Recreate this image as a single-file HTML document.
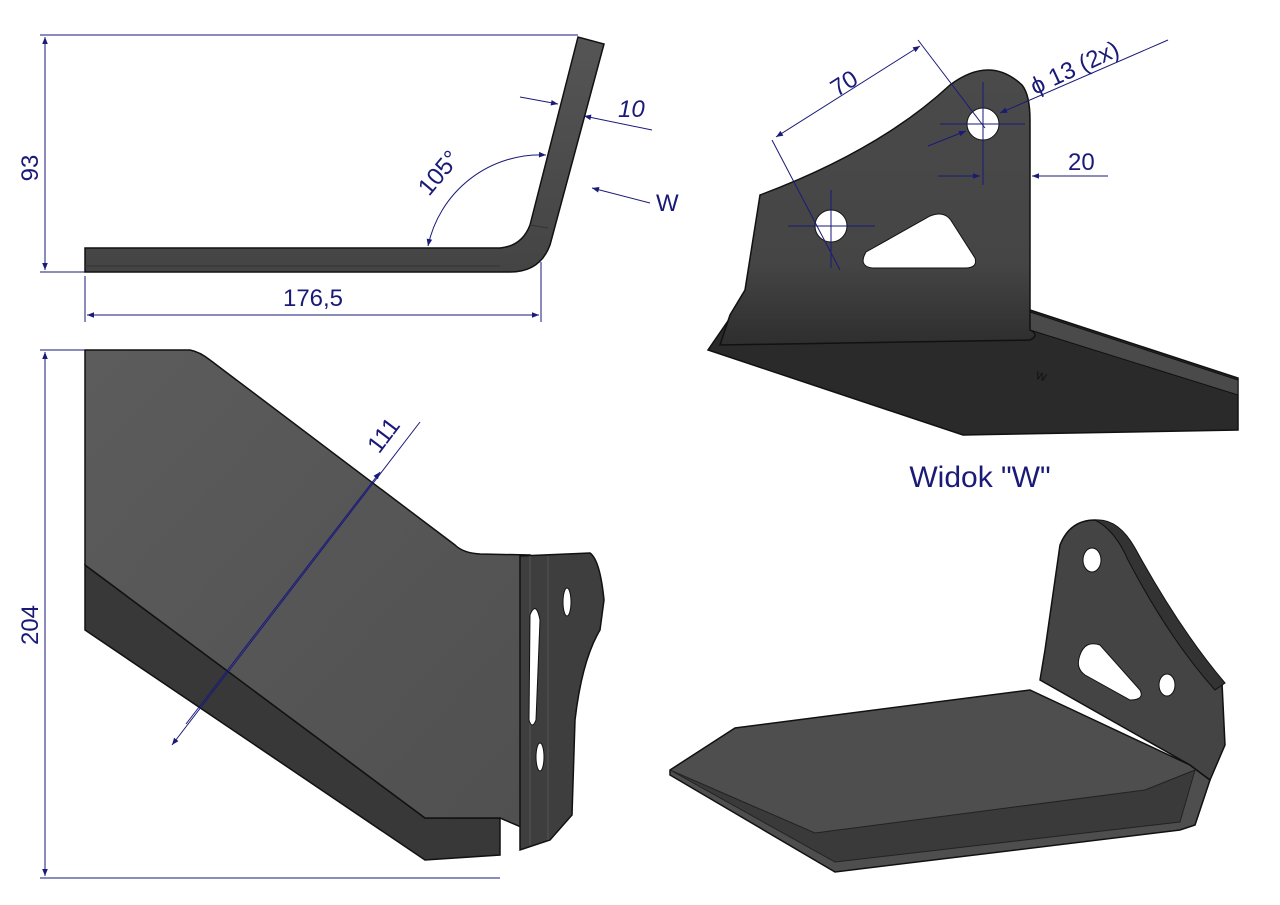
<!DOCTYPE html>
<html><head><meta charset="utf-8"><style>
html,body{margin:0;padding:0;background:#fff;}
svg{display:block;}
text{font-family:"Liberation Sans",sans-serif;fill:#1a1a78;}
</style></head><body>
<svg width="1280" height="905" viewBox="0 0 1280 905" xmlns="http://www.w3.org/2000/svg">
<defs>
<marker id="a" viewBox="0 0 10 10" refX="10" refY="5" markerWidth="10" markerHeight="7" orient="auto-start-reverse"><path d="M0,1 L10,5 L0,9 z" fill="#1a1a78"/></marker>
<linearGradient id="g1" x1="0" y1="0" x2="0" y2="1"><stop offset="0" stop-color="#555"/><stop offset="1" stop-color="#444"/></linearGradient>
<linearGradient id="g2" x1="0" y1="0" x2="1" y2="1"><stop offset="0" stop-color="#5c5c5c"/><stop offset="1" stop-color="#505050"/></linearGradient>
<linearGradient id="g3" x1="0" y1="0" x2="0" y2="1"><stop offset="0" stop-color="#4a4a4a"/><stop offset="0.7" stop-color="#454545"/><stop offset="1" stop-color="#2e2e2e"/></linearGradient>
</defs>
<g stroke="#1a1a78" stroke-width="1" fill="none">
<!-- top-left dims -->
<line x1="40" y1="35" x2="578" y2="35"/>
<line x1="40" y1="272" x2="85" y2="272"/>
<line x1="45" y1="37" x2="45" y2="270" marker-start="url(#a)" marker-end="url(#a)"/>
<line x1="85" y1="276" x2="85" y2="322"/>
<line x1="541" y1="262" x2="541" y2="322"/>
<line x1="87" y1="315" x2="539" y2="315" marker-start="url(#a)" marker-end="url(#a)"/>
<path d="M428,246 A115,115 0 0 1 546,155" marker-start="url(#a)" marker-end="url(#a)"/>
<line x1="520" y1="97" x2="558" y2="104" marker-end="url(#a)"/>
<line x1="652" y1="130" x2="584" y2="116" marker-end="url(#a)"/>
<line x1="650" y1="203" x2="592" y2="188" marker-end="url(#a)"/>
<!-- bottom-left dims -->
<line x1="40" y1="350" x2="85" y2="350"/>
<line x1="40" y1="878" x2="500" y2="878"/>
<line x1="45" y1="352" x2="45" y2="876" marker-start="url(#a)" marker-end="url(#a)"/>
</g>
<!-- top-left view -->
<path d="M85,248 L500,248 Q522,246 530,225 L578,37 L604,44 L550,245 Q540,272 510,272 L85,272 Z" fill="url(#g1)" stroke="#111" stroke-width="1.5"/>
<line x1="85" y1="266" x2="500" y2="266" stroke="#333"/>
<line x1="530" y1="225" x2="548" y2="228" stroke="#333"/>
<text x="22" y="158" font-size="24" transform="rotate(-90 35 155)" text-anchor="middle">93</text>
<text x="313" y="306" font-size="24" text-anchor="middle">176,5</text>
<text x="445" y="178" font-size="24" transform="rotate(-50 445 178)" text-anchor="middle">105°</text>
<text x="618" y="117" font-size="24" font-style="italic">10</text>
<text x="656" y="211" font-size="24">W</text>
<!-- bottom-left view -->
<path d="M85,565 L425,818 L500,818 L500,855 L425,860 L85,630 Z" fill="#383838" stroke="#111" stroke-width="1.5"/>
<path d="M85,350 L190,350 Q200,352 210,360 L455,545 Q463,553 480,554 L530,555 L528,830 L500,818 L425,818 L85,565 Z" fill="url(#g2)" stroke="#111" stroke-width="1.5"/>
<path d="M520,556 L590,553 Q600,560 604,600 L600,630 Q582,660 575,720 L572,815 L550,840 L520,850 Z" fill="#3e3e3e" stroke="#111" stroke-width="1.5"/>
<path d="M530,556 L530,845 M548,556 L548,840" stroke="#555" fill="none"/>
<ellipse cx="567" cy="602" rx="4" ry="14" fill="#fff" stroke="#111"/>
<ellipse cx="540" cy="757" rx="4" ry="14" fill="#fff" stroke="#111"/>
<path d="M530,615 Q536,600 540,620 L536,720 Q532,730 529,720 Z" fill="#fff" stroke="#111"/>
<line x1="420" y1="422" x2="172" y2="745" stroke="#1a1a78" marker-end="url(#a)"/>
<line x1="380" y1="472" x2="186" y2="724" stroke="#1a1a78" marker-start="url(#a)"/>
<text x="390" y="440" font-size="24" transform="rotate(-53 390 440)" text-anchor="middle">111</text>
<text x="22" y="615" font-size="24" transform="rotate(-90 35 612)" text-anchor="middle">204</text>
<!-- top-right view -->
<path d="M1030,310 L1238,378 L1238,430 L963,435 L708,350 L730,318 Z" fill="#2a2a2a" stroke="#111" stroke-width="1.5"/>
<path d="M1030,312 L1238,380 L1238,395 L1030,330 Z" fill="#4a4a4a" stroke="#111"/>
<path d="M760,195 Q880,150 950,85 Q990,55 1022,85 Q1030,95 1030,120 L1030,330 Q1040,335 1030,340 L720,345 L730,315 L745,290 Z" fill="url(#g3)" stroke="#111" stroke-width="1.5"/>
<circle cx="831" cy="226" r="16" fill="#fff" stroke="#111"/>
<circle cx="983" cy="124" r="16" fill="#fff" stroke="#111"/>
<path d="M866,252 L930,216 Q945,210 952,222 L975,258 Q978,268 965,268 L872,268 Q858,266 866,252 Z" fill="#fff" stroke="#111"/>
<text x="1040" y="380" font-size="11" fill="#111" style="fill:#111" transform="rotate(18 1040 380)" text-anchor="middle">W</text>
<g stroke="#1a1a78" fill="none">
<line x1="772" y1="140" x2="840" y2="270"/>
<line x1="918" y1="40" x2="985" y2="128"/>
<line x1="776" y1="137" x2="920" y2="46" marker-start="url(#a)" marker-end="url(#a)"/>
<line x1="788" y1="226" x2="875" y2="226"/>
<line x1="831" y1="190" x2="831" y2="268"/>
<line x1="940" y1="124" x2="1025" y2="124"/>
<line x1="983" y1="82" x2="983" y2="185"/>
<line x1="1168" y1="40" x2="1000" y2="113" marker-end="url(#a)"/>
<line x1="928" y1="146" x2="966" y2="131" marker-end="url(#a)"/>
<line x1="938" y1="176" x2="980" y2="176" marker-end="url(#a)"/>
<line x1="1108" y1="176" x2="1032" y2="176" marker-end="url(#a)"/>
</g>
<text x="842" y="92" font-size="24" transform="rotate(-32 842 80)" text-anchor="middle">70</text>
<text x="1035" y="95" font-size="24" transform="rotate(-25 1035 95)">ϕ 13 (2x)</text>
<text x="1068" y="170" font-size="24">20</text>
<text x="980" y="487" font-size="30" text-anchor="middle">Widok "W"</text>
<!-- bottom-right view -->
<path d="M670,770 L735,728 L1030,690 L1190,765 L1210,780 L1195,825 L1180,830 L835,872 L670,775 Z" fill="#4e4e4e" stroke="#111" stroke-width="1.5"/>
<path d="M670,770 L835,862 L1180,822 L1195,770 L1145,790 L815,833 Z" fill="#3a3a3a" stroke="#222"/>
<path d="M1060,545 Q1070,520 1095,520 Q1120,522 1140,560 Q1180,640 1222,683 L1225,745 L1210,780 L1190,765 L1040,680 L1045,650 Z" fill="#444" stroke="#111" stroke-width="1.5"/>
<path d="M1095,520 Q1118,518 1135,548 Q1180,630 1225,683 L1215,690 Q1170,640 1128,560 Q1115,530 1095,520 Z" fill="#333" stroke="#111"/>
<ellipse cx="1092" cy="560" rx="9" ry="12" fill="#fff" stroke="#111"/>
<ellipse cx="1167" cy="685" rx="8" ry="11" fill="#fff" stroke="#111"/>
<path d="M1080,655 Q1085,640 1100,645 L1140,690 Q1145,700 1130,700 L1085,675 Q1075,668 1080,655 Z" fill="#fff" stroke="#111"/>
</svg>
</body></html>
